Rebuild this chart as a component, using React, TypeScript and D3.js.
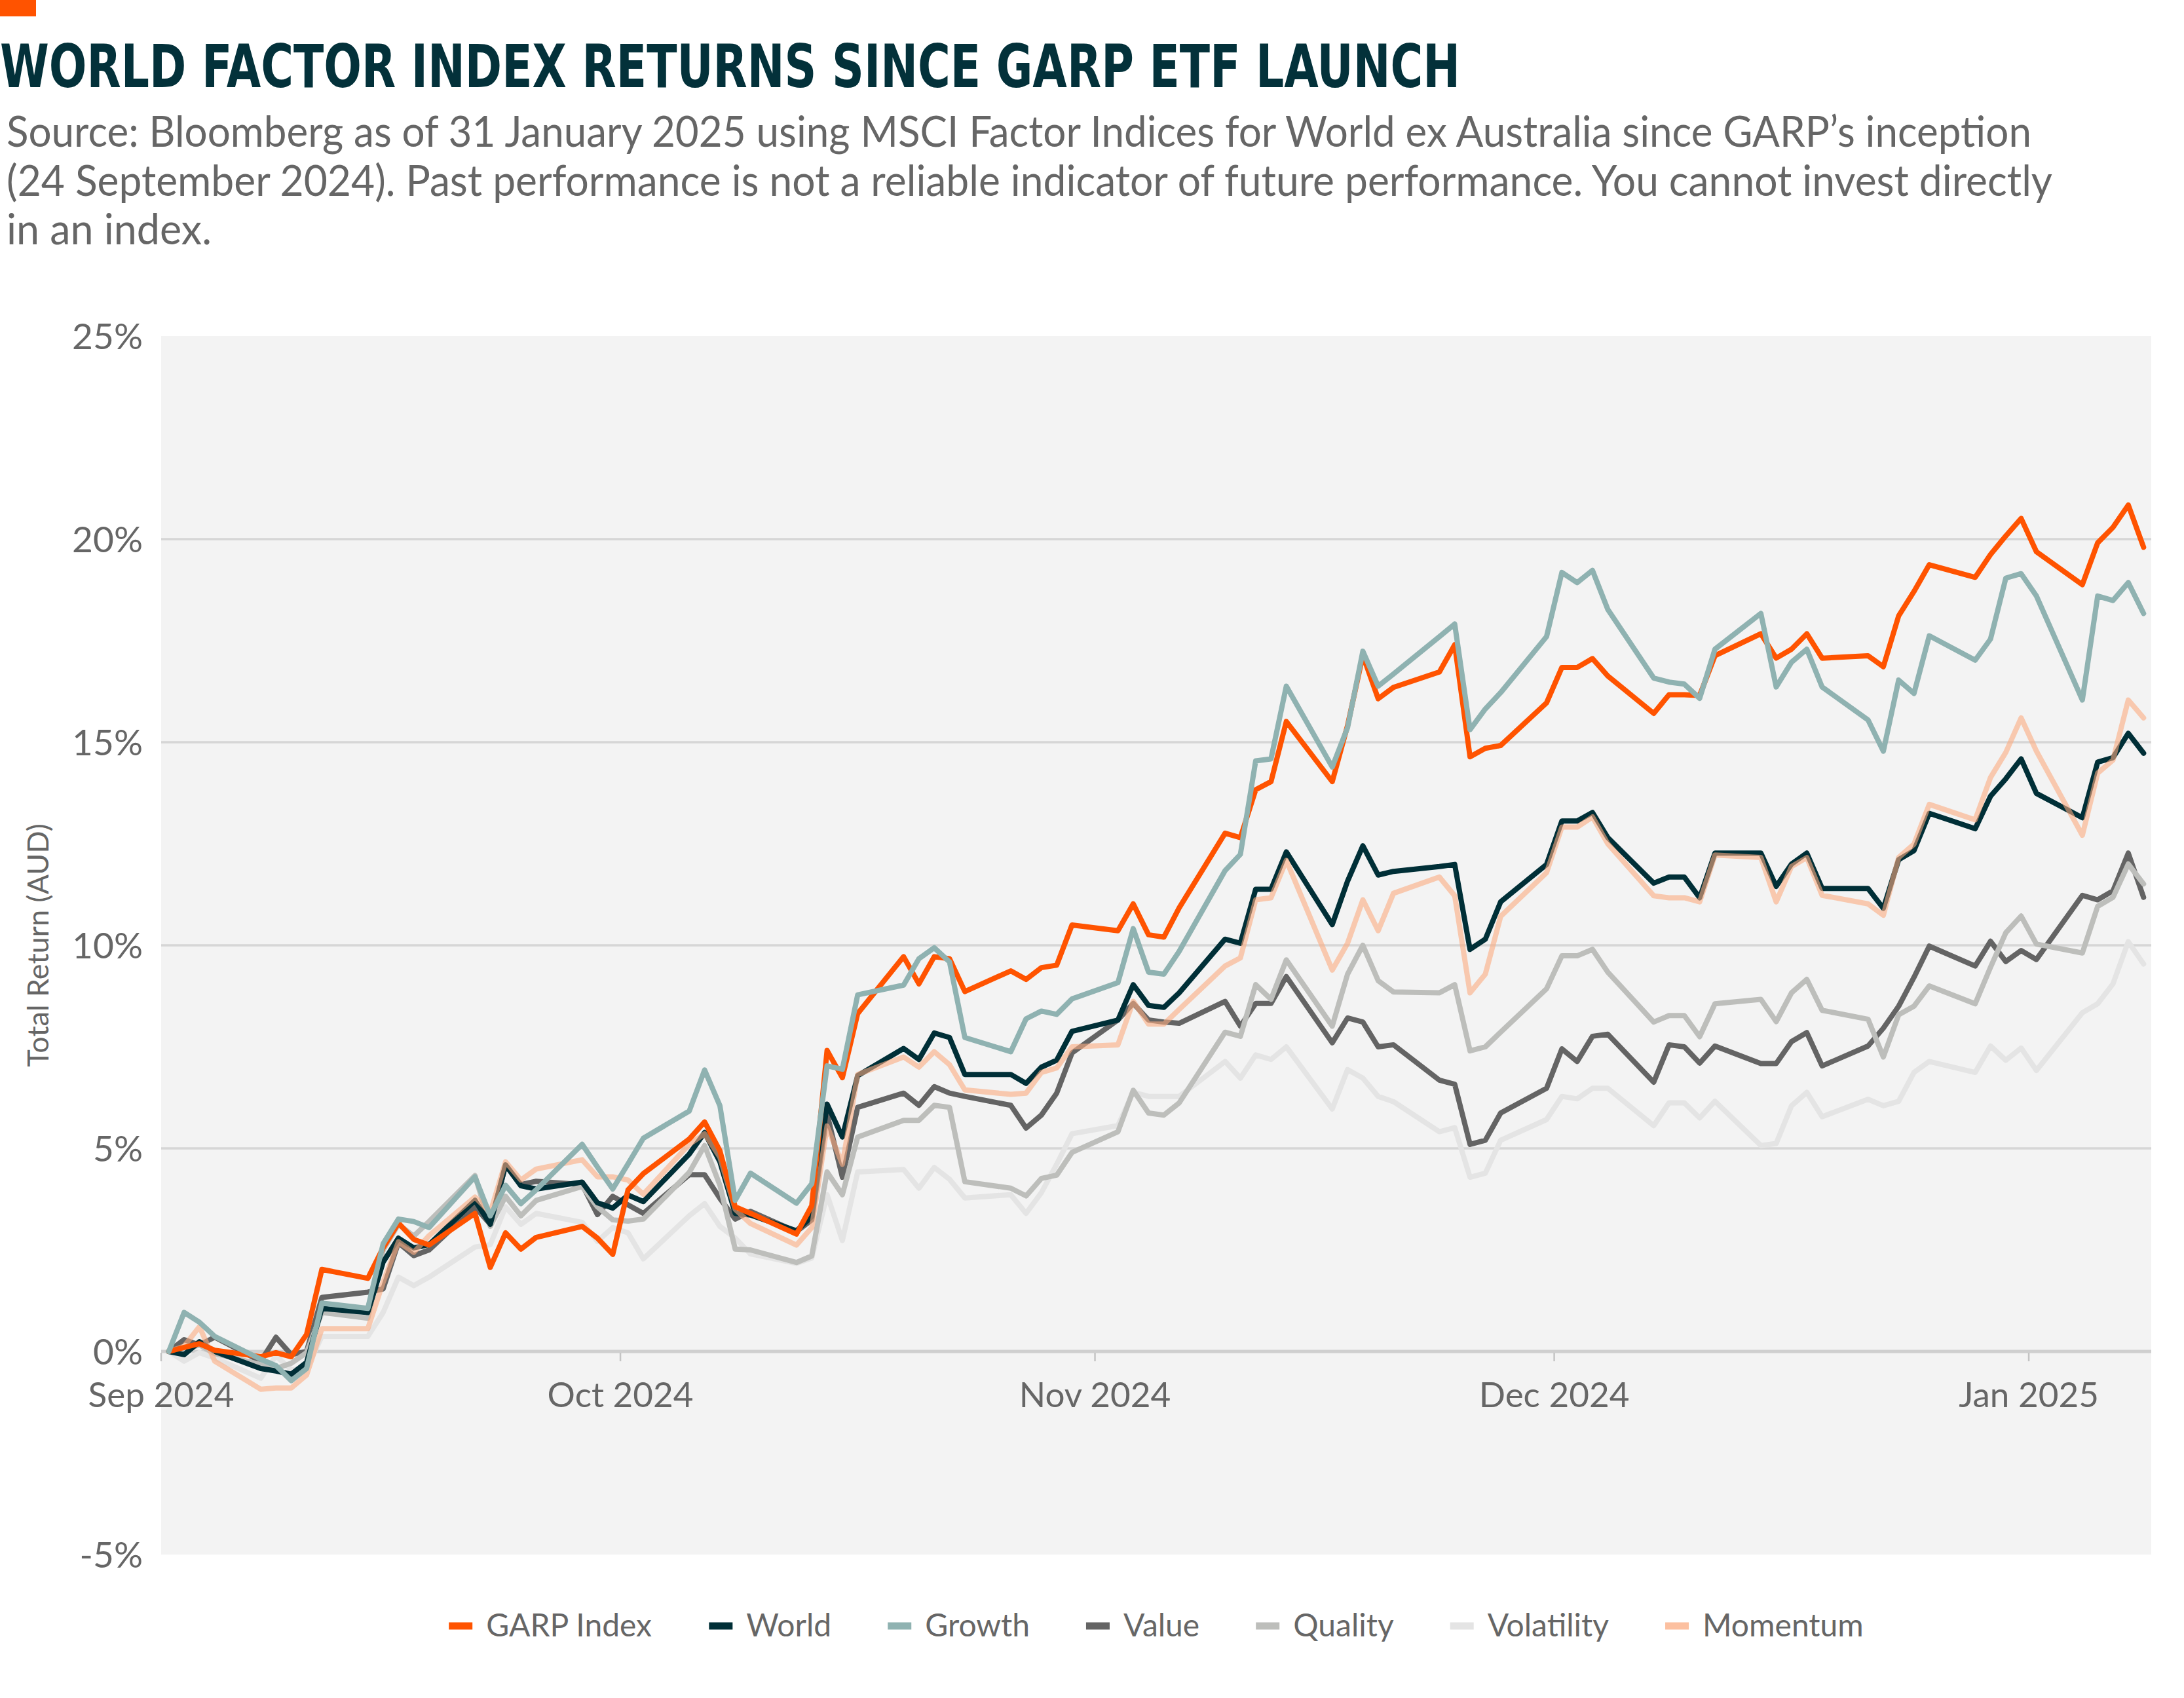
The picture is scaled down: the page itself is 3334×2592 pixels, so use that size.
import React from "react";
import * as d3 from "d3";

// trading days, Bloomberg daily closes since GARP inception
const tradingDays = [
  "2024-09-24", "2024-09-25", "2024-09-26", "2024-09-27", "2024-09-30",
  "2024-10-01", "2024-10-02", "2024-10-03", "2024-10-04", "2024-10-07", "2024-10-08", "2024-10-09", "2024-10-10",
  "2024-10-11", "2024-10-14", "2024-10-15", "2024-10-16", "2024-10-17", "2024-10-18", "2024-10-21", "2024-10-22",
  "2024-10-23", "2024-10-24", "2024-10-25", "2024-10-28", "2024-10-29", "2024-10-30", "2024-10-31",
  "2024-11-01", "2024-11-04", "2024-11-05", "2024-11-06", "2024-11-07", "2024-11-08", "2024-11-11", "2024-11-12",
  "2024-11-13", "2024-11-14", "2024-11-15", "2024-11-18", "2024-11-19", "2024-11-20", "2024-11-21", "2024-11-22",
  "2024-11-25", "2024-11-26", "2024-11-27", "2024-11-28", "2024-11-29",
  "2024-12-02", "2024-12-03", "2024-12-04", "2024-12-05", "2024-12-06", "2024-12-09", "2024-12-10", "2024-12-11",
  "2024-12-12", "2024-12-13", "2024-12-16", "2024-12-17", "2024-12-18", "2024-12-19", "2024-12-20", "2024-12-23",
  "2024-12-24", "2024-12-25", "2024-12-26", "2024-12-27", "2024-12-30", "2024-12-31",
  "2025-01-01", "2025-01-02", "2025-01-03", "2025-01-06", "2025-01-07", "2025-01-08", "2025-01-09", "2025-01-10",
  "2025-01-13", "2025-01-14", "2025-01-15", "2025-01-16", "2025-01-17", "2025-01-20", "2025-01-21", "2025-01-22",
  "2025-01-23", "2025-01-24", "2025-01-27", "2025-01-28", "2025-01-29", "2025-01-30", "2025-01-31",
];

// total return, %
const garp = [
  0, 0.1, 0.19, 0.03, -0.13,
  -0.03, -0.13, 0.42, 2.02, 1.8, 2.55, 3.16, 2.76, 2.62, 3.4, 2.07, 2.92, 2.52, 2.81, 3.08, 2.79, 2.39, 3.98, 4.38, 5.23, 5.65, 4.94, 3.56,
  3.4, 2.89, 3.59, 7.41, 6.74, 8.32, 9.72, 9.05, 9.72, 9.67, 8.86, 9.37, 9.16, 9.45, 9.51, 10.5, 10.36, 11.02, 10.26, 10.2, 10.92,
  12.76, 12.65, 13.83, 14.03, 15.51, 14.03, 15.41, 17.14, 16.07, 16.35, 16.73, 17.4, 14.64, 14.85, 14.92, 15.97, 16.84, 16.84, 17.06, 16.63, 15.71, 16.17,
  16.17, 16.15, 17.13, 17.67, 17.07, 17.29, 17.67, 17.07, 17.13, 16.86, 18.11, 18.71, 19.37, 19.06, 19.62, 20.08, 20.51, 19.69, 18.88, 19.91, 20.29, 20.84, 19.8,
];
const world = [
  0, -0.08, 0.24, 0, -0.42,
  -0.48, -0.56, -0.27, 1.06, 0.96, 2.2, 2.79, 2.55, 2.63, 3.72, 3.13, 4.59, 4.08, 4.0, 4.17, 3.66, 3.53, 3.85, 3.69, 4.86, 5.39, 4.67, 3.4,
  3.36, 2.97, 3.32, 6.09, 5.28, 6.79, 7.46, 7.19, 7.84, 7.73, 6.82, 6.82, 6.6, 7.0, 7.17, 7.88, 8.16, 9.03, 8.52, 8.47, 8.83,
  10.15, 10.05, 11.38, 11.38, 12.3, 10.51, 11.58, 12.45, 11.73, 11.82, 11.94, 11.99, 9.9, 10.15, 11.07, 11.99, 13.06, 13.06, 13.27, 12.65, 11.53, 11.68,
  11.68, 11.17, 12.27, 12.27, 11.45, 12.0, 12.27, 11.4, 11.4, 10.91, 12.11, 12.33, 13.25, 12.87, 13.67, 14.1, 14.59, 13.74, 13.14, 14.51, 14.62, 15.22, 14.73,
];
const growth = [
  0, 0.96, 0.72, 0.37, -0.19,
  -0.35, -0.72, -0.42, 1.19, 1.06, 2.65, 3.26, 3.2, 3.05, 4.3, 3.34, 4.09, 3.64, 3.98, 5.1, 4.54, 4.0, 4.62, 5.25, 5.92, 6.93, 6.05, 3.72,
  4.39, 3.65, 4.13, 7.03, 6.95, 8.78, 9.02, 9.67, 9.94, 9.59, 7.73, 7.38, 8.19, 8.38, 8.3, 8.68, 9.08, 10.41, 9.34, 9.29, 9.85,
  11.84, 12.24, 14.54, 14.59, 16.38, 14.39, 15.36, 17.24, 16.38, 16.68, 17.6, 17.91, 15.31, 15.82, 16.22, 17.6, 19.18, 18.93, 19.23, 18.27, 16.58, 16.48,
  16.43, 16.08, 17.29, 18.17, 16.36, 16.97, 17.29, 16.36, 15.55, 14.78, 16.53, 16.2, 17.62, 17.02, 17.54, 19.04, 19.15, 18.6, 16.04, 18.6, 18.49, 18.93, 18.17,
];
const value = [
  0, 0.29, 0.16, 0.35, -0.24,
  0.35, -0.08, 0, 1.33, 1.46, 1.54, 2.68, 2.36, 2.5, 3.56, 3.13, 4.59, 4.11, 4.19, 4.11, 3.37, 3.82, 3.61, 3.4, 4.35, 4.35, 3.77, 3.26,
  3.45, 2.95, 3.24, 5.85, 4.29, 6.01, 6.36, 6.06, 6.52, 6.36, 6.28, 6.06, 5.5, 5.82, 6.36, 7.35, 8.16, 8.57, 8.16, 8.11, 8.08,
  8.62, 8.01, 8.57, 8.57, 9.23, 7.6, 8.21, 8.11, 7.5, 7.55, 6.68, 6.58, 5.1, 5.2, 5.87, 6.48, 7.45, 7.14, 7.76, 7.81, 6.63, 7.55,
  7.5, 7.1, 7.52, 7.09, 7.09, 7.63, 7.85, 7.03, 7.52, 7.96, 8.5, 9.21, 9.98, 9.49, 10.1, 9.6, 9.87, 9.65, 11.23, 11.12, 11.34, 12.27, 11.18,
];
const quality = [
  0, 0.05, 0.16, -0.05, -0.32,
  -0.42, -0.29, -0.03, 0.96, 0.82, 2.5, 3.13, 2.84, 3.2, 4.33, 3.08, 3.82, 3.34, 3.72, 4.06, 3.56, 3.24, 3.21, 3.26, 4.41, 5.07, 4.09, 2.52,
  2.5, 2.19, 2.35, 4.42, 3.86, 5.28, 5.69, 5.69, 6.06, 6.01, 4.18, 4.02, 3.83, 4.26, 4.34, 4.9, 5.41, 6.43, 5.87, 5.82, 6.12,
  7.86, 7.76, 9.03, 8.67, 9.64, 8.01, 9.29, 10.0, 9.13, 8.85, 8.83, 9.03, 7.4, 7.5, 7.86, 8.93, 9.74, 9.74, 9.9, 9.34, 8.11, 8.27,
  8.27, 7.75, 8.56, 8.67, 8.12, 8.83, 9.16, 8.4, 8.18, 7.25, 8.29, 8.5, 9.0, 8.56, 9.46, 10.31, 10.72, 10.03, 9.81, 10.96, 11.18, 12.0, 11.51,
];
const volatility = [
  0, -0.24, -0.03, -0.16, -0.66,
  -0.11, -0.45, -0.42, 0.37, 0.37, 0.96, 1.83, 1.62, 1.83, 2.57, 2.63, 3.56, 3.13, 3.4, 3.18, 2.71, 3.05, 2.92, 2.28, 3.34, 3.64, 3.08, 2.79,
  2.4, 2.17, 2.3, 3.86, 2.73, 4.42, 4.48, 4.02, 4.53, 4.24, 3.78, 3.86, 3.4, 3.91, 4.61, 5.36, 5.56, 6.38, 6.28, 6.28, 6.28,
  7.14, 6.73, 7.3, 7.19, 7.5, 5.97, 6.94, 6.73, 6.28, 6.15, 5.41, 5.51, 4.29, 4.39, 5.2, 5.71, 6.28, 6.22, 6.48, 6.48, 5.56, 6.12,
  6.12, 5.75, 6.16, 5.07, 5.12, 6.05, 6.38, 5.78, 6.21, 6.05, 6.16, 6.87, 7.14, 6.87, 7.52, 7.17, 7.47, 6.92, 8.34, 8.56, 9.05, 10.09, 9.54,
];
const momentum = [
  0, 0.13, 0.61, -0.24, -0.93,
  -0.9, -0.9, -0.58, 0.56, 0.56, 1.7, 2.7, 2.44, 2.85, 3.8, 3.42, 4.67, 4.22, 4.49, 4.72, 4.3, 4.3, 4.22, 3.87, 5.1, 5.36, 4.78, 3.5,
  3.15, 2.62, 3.05, 5.55, 4.61, 6.82, 7.25, 7.0, 7.38, 7.06, 6.44, 6.33, 6.36, 6.87, 6.98, 7.5, 7.55, 8.62, 8.06, 8.06, 8.42,
  9.49, 9.69, 11.12, 11.17, 12.09, 9.39, 10.05, 11.12, 10.36, 11.28, 11.68, 11.22, 8.83, 9.29, 10.71, 11.79, 12.91, 12.91, 13.16, 12.5, 11.22, 11.17,
  11.17, 11.07, 12.22, 12.16, 11.07, 11.94, 12.16, 11.23, 11.02, 10.74, 12.16, 12.49, 13.47, 13.09, 14.13, 14.75, 15.6, 14.78, 12.71, 14.24, 14.56, 16.04, 15.6,
];

const xTickDates = ["2024-09-24", "2024-10-24", "2024-11-24", "2024-12-24", "2025-01-24"];
const yTicks = [-5, 0, 5, 10, 15, 20, 25];

const title = "WORLD FACTOR INDEX RETURNS SINCE GARP ETF LAUNCH";
const subtitleLines = [
  "Source: Bloomberg as of 31 January 2025 using MSCI Factor Indices for World ex Australia since GARP’s inception",
  "(24 September 2024). Past performance is not a reliable indicator of future performance. You cannot invest directly",
  "in an index.",
];

type Series = { name: string; values: number[]; color: string; opacity?: number };

const series: Series[] = [
  { name: "GARP Index", values: garp, color: "#ff5300" },
  { name: "World", values: world, color: "#002f37" },
  { name: "Growth", values: growth, color: "#8fb2b1" },
  { name: "Value", values: value, color: "#646464" },
  { name: "Quality", values: quality, color: "#bdbebb" },
  { name: "Volatility", values: volatility, color: "#e4e4e4" },
  { name: "Momentum", values: momentum, color: "#fbab80", opacity: 0.6 },
];
// bottom to top
const drawOrder = ["Volatility", "Value", "Quality", "World", "Momentum", "GARP Index", "Growth"];

const W = 3334;
const H = 2592;
const FONT = "Lato, 'Open Sans', sans-serif";
const TITLE_FONT = "'Liberation Sans Narrow', 'DejaVu Sans Condensed', 'Roboto Condensed', Roboto, sans-serif";
const GREY = "#666666";

const margin = { left: 246, right: 50, top: 513, bottom: 219 };

const parse = d3.utcParse("%Y-%m-%d");
const fmtMonth = d3.utcFormat("%b %Y");

let measureCtx: CanvasRenderingContext2D | null = null;
const measure = (text: string, font: string) => {
  if (!measureCtx) measureCtx = document.createElement("canvas").getContext("2d");
  if (!measureCtx) return text.length * 24;
  measureCtx.font = font;
  return measureCtx.measureText(text).width;
};

const App = () => {
  const dates = tradingDays.map((d) => parse(d) as Date);
  const x0 = dates[0];
  const x1 = d3.utcDay.offset(dates[dates.length - 1], 1);

  const x = d3.scaleUtc().domain([x0, x1]).range([margin.left, W - margin.right]);
  const y = d3.scaleLinear().domain([-5, 25]).range([H - margin.bottom, margin.top]);

  // points sit in the middle of each day slot
  const px = (i: number) => x(d3.utcHour.offset(dates[i], 12));

  const line = d3
    .line<number>()
    .x((_, i) => px(i))
    .y((v) => y(v));

  const plotW = W - margin.left - margin.right;
  const plotH = H - margin.top - margin.bottom;

  // legend layout
  const legendFontSize = 48;
  const legendFont = `${legendFontSize}px Lato`;
  const keyW = 36;
  const keyGap = 21;
  const itemGap = 86;
  let cursor = 0;
  const legendItems = series.map((s) => {
    const tw = measure(s.name, legendFont);
    const item = { ...s, offset: cursor };
    cursor += keyW + keyGap + tw + itemGap;
    return item;
  });
  const legendWidth = cursor - itemGap;
  const legendStart = margin.left + plotW / 2 - legendWidth / 2;
  const legendY = 2482;

  return (
    <svg
      width={W}
      height={H}
      viewBox={`0 0 ${W} ${H}`}
      style={{ position: "absolute", left: 0, top: 0, display: "block", background: "#ffffff" }}
    >
      <rect x={0} y={0} width={55} height={25} fill="#ff5300" />

      <text
        x={0}
        y={133}
        fontFamily={TITLE_FONT}
        fontWeight={700}
        fontSize={90}
        fill="#03313a"
        textLength={2229}
        lengthAdjust="spacingAndGlyphs"
      >
        {title}
      </text>

      {subtitleLines.map((t, i) => (
        <text
          key={i}
          x={10}
          y={224 + i * 74.5}
          fontFamily={FONT}
          fontSize={66}
          fill={GREY}
          textLength={[3091, 3123, 313][i]}
          lengthAdjust="spacingAndGlyphs"
        >
          {t}
        </text>
      ))}

      {/* plot area */}
      <rect x={margin.left} y={margin.top} width={plotW} height={plotH} fill="#f3f3f3" />

      {yTicks
        .filter((t) => t > -5 && t < 25)
        .map((t) => (
          <line
            key={t}
            x1={margin.left}
            x2={W - margin.right}
            y1={y(t)}
            y2={y(t)}
            stroke={t === 0 ? "#cfcfcf" : "#d6d6d6"}
            strokeWidth={t === 0 ? 5 : 3.5}
          />
        ))}

      {xTickDates.map((d) => {
        const tx = x(parse(d) as Date);
        return (
          <g key={d}>
            <line x1={tx} x2={tx} y1={y(0) + 2} y2={y(0) + 15} stroke="#c4c4c4" strokeWidth={2.5} />
            <text
              x={tx}
              y={2148}
              textAnchor="middle"
              fontFamily={FONT}
              fontSize={53}
              fill={GREY}
            >
              {fmtMonth(parse(d) as Date)}
            </text>
          </g>
        );
      })}

      {yTicks.map((t) => (
        <text
          key={t}
          x={218}
          y={y(t)}
          dy="0.36em"
          textAnchor="end"
          fontFamily={FONT}
          fontSize={55}
          fill={GREY}
        >
          {`${t}%`}
        </text>
      ))}

      <text
        transform={`translate(74, ${margin.top + plotH / 2}) rotate(-90)`}
        textAnchor="middle"
        fontFamily={FONT}
        fontSize={45}
        fill={GREY}
      >
        Total Return (AUD)
      </text>

      <g fill="none" strokeLinejoin="round" strokeLinecap="round">
        {drawOrder.map((name) => {
          const s = series.find((d) => d.name === name)!;
          return (
            <path
              key={name}
              d={line(s.values) || ""}
              stroke={s.color}
              strokeWidth={8}
              strokeOpacity={s.opacity ?? 1}
            />
          );
        })}
      </g>

      <g>
        {legendItems.map((s) => {
          const lx = legendStart + s.offset;
          return (
            <g key={s.name}>
              <rect x={lx} y={legendY - 5.5} width={keyW} height={11} fill={s.color} fillOpacity={s.opacity ? 0.75 : 1} />
              <text
                x={lx + keyW + keyGap}
                y={legendY + 16}
                fontFamily={FONT}
                fontSize={legendFontSize}
                fill={GREY}
              >
                {s.name}
              </text>
            </g>
          );
        })}
      </g>
    </svg>
  );
};

export default App;
